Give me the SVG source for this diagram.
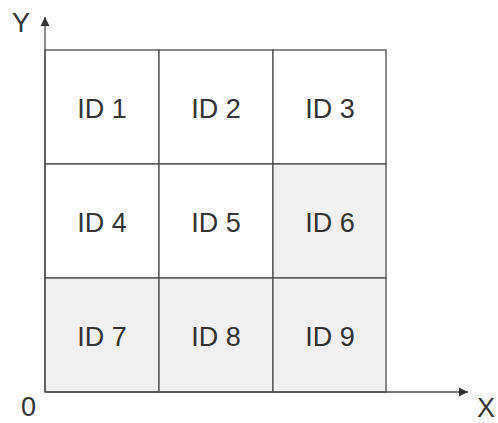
<svg xmlns="http://www.w3.org/2000/svg" width="498" height="423" viewBox="0 0 498 423">
<style>
.cell{stroke:#4d4d4d;stroke-width:1.3}
.w{fill:#ffffff}
.g{fill:#f0f0f0}
.t{font-family:"Liberation Sans",Arial,sans-serif;font-size:27px;fill:#333333;text-anchor:middle}
.ax{font-family:"Liberation Sans",Arial,sans-serif;font-size:27px;fill:#333333}
.axis{stroke:#4d4d4d;stroke-width:1.3;fill:none}
</style>
<defs>
<marker id="ah" markerWidth="10" markerHeight="10" refX="9" refY="5" orient="auto" markerUnits="userSpaceOnUse">
<path d="M0,0.5 L9,5 L0,9.5 Z" fill="#333333"/>
</marker>
</defs>
<rect width="498" height="423" fill="#ffffff"/>
<g id="n1"><rect class="cell w" x="45" y="50" width="114" height="114"/><text class="t" x="102" y="118">ID 1</text></g>
<g id="n2"><rect class="cell w" x="159" y="50" width="114" height="114"/><text class="t" x="216" y="118">ID 2</text></g>
<g id="n3"><rect class="cell w" x="273" y="50" width="113" height="114"/><text class="t" x="330" y="118">ID 3</text></g>
<g id="n4"><rect class="cell w" x="45" y="164" width="114" height="114"/><text class="t" x="102" y="232">ID 4</text></g>
<g id="n5"><rect class="cell w" x="159" y="164" width="114" height="114"/><text class="t" x="216" y="232">ID 5</text></g>
<g id="n6"><rect class="cell g" x="273" y="164" width="113" height="114"/><text class="t" x="330" y="232">ID 6</text></g>
<g id="n7"><rect class="cell g" x="45" y="278" width="114" height="114"/><text class="t" x="102" y="346">ID 7</text></g>
<g id="n8"><rect class="cell g" x="159" y="278" width="114" height="114"/><text class="t" x="216" y="346">ID 8</text></g>
<g id="n9"><rect class="cell g" x="273" y="278" width="113" height="114"/><text class="t" x="330" y="346">ID 9</text></g>
<g id="connectors">
<line class="axis" x1="45" y1="392" x2="45" y2="17" marker-end="url(#ah)"/>
<line class="axis" x1="45" y1="392" x2="468" y2="392" marker-end="url(#ah)"/>
</g>
<g id="labels">
<text class="ax" x="12" y="32">Y</text>
<text class="ax" x="477" y="417">X</text>
<text class="ax" x="21" y="416">0</text>
</g>
</svg>
